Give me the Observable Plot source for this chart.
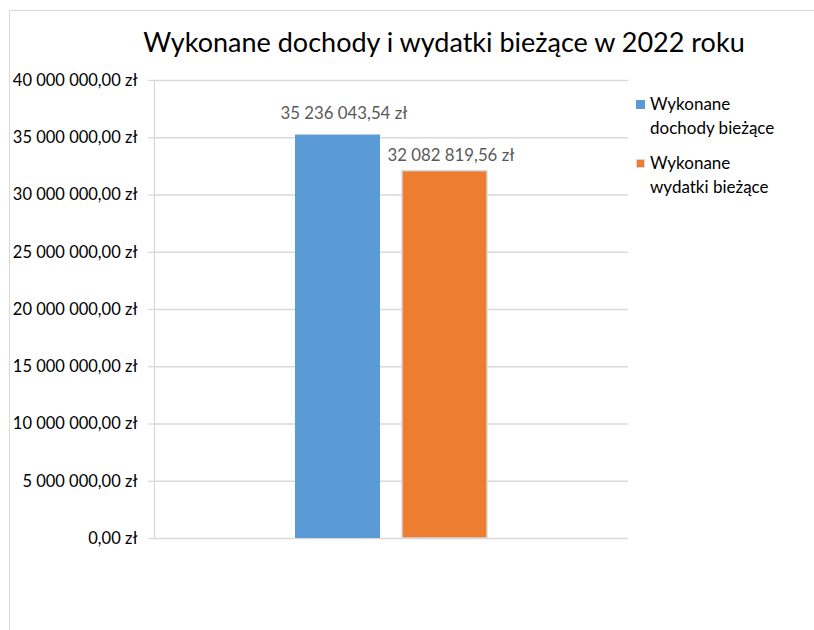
<!DOCTYPE html>
<html>
<head>
<meta charset="utf-8">
<script src="https://cdn.jsdelivr.net/npm/d3@7"></script>
<script src="https://cdn.jsdelivr.net/npm/@observablehq/plot@0.6"></script>
<style>
  html, body { margin: 0; padding: 0; background: #fff; }
  #wrap { position: relative; width: 814px; height: 630px; overflow: hidden; font-family: Lato, "Open Sans", sans-serif; }
  #border { position: absolute; left: 9px; top: 10px; width: 900px; height: 700px; border: 1px solid #d9d9d9; }
  #title { position: absolute; left: 0; width: 888px; top: 25px; text-align: center; font-size: 27px; color: #000; }
  #chart { position: absolute; left: 0; top: 0; }
  #legend { position: absolute; left: 636px; top: 92px; font-size: 17px; color: #000; line-height: 24px; }
  .item { display: flex; align-items: flex-start; margin-bottom: 11px; }
  .sw { width: 9px; height: 9px; margin-top: 8px; margin-right: 5px; flex: none; box-sizing: border-box; }
</style>
</head>
<body>
<div id="wrap">
  <div id="border"></div>
  <div id="title"></div>
  <div id="chart"></div>
  <div id="legend"></div>
</div>
<script>
const titleText = "Wykonane dochody i wydatki bieżące w 2022 roku";
const series = ["Wykonane dochody bieżące", "Wykonane wydatki bieżące"];
const legendLines = [["Wykonane", "dochody bieżące"], ["Wykonane", "wydatki bieżące"]];
const values = [35236043.54, 32082819.56];
const colors = ["#5B9BD5", "#ED7D31"];
const yTicks = [0, 5000000, 10000000, 15000000, 20000000, 25000000, 30000000, 35000000, 40000000];

const data = series.map((s, i) => ({series: s, value: values[i]}));

const fmt = v => {
  const [int, dec] = v.toFixed(2).split(".");
  return int.replace(/\B(?=(\d{3})+(?!\d))/g, " ") + "," + dec + " zł";
};

document.getElementById("title").textContent = titleText;

const chart = Plot.plot({
  width: 814,
  height: 630,
  marginLeft: 154,
  marginRight: 186,
  marginTop: 80,
  marginBottom: 92,
  style: {fontFamily: "Lato, 'Open Sans', sans-serif", fontSize: "16px", color: "#000", background: "transparent"},
  x: {domain: series, paddingInner: 0.204, paddingOuter: 1.297, axis: null},
  y: {domain: [0, 40000000], axis: null},
  color: {domain: series, range: colors},
  marks: [
    Plot.ruleY(yTicks, {stroke: "#d9d9d9", strokeWidth: 1.3, strokeOpacity: 1}),
    Plot.axisY(yTicks, {label: null, tickSize: 6, tickPadding: 11, tickFormat: fmt, stroke: "#d9d9d9", strokeWidth: 1.3, strokeOpacity: 1, fill: "#000", fontSize: 16.5}),
    Plot.frame({anchor: "left", stroke: "#d9d9d9", strokeWidth: 1.3}),
    Plot.barY(data, {x: "series", y: "value", fill: "series", stroke: (d, i) => i === 1 ? "#d9d9d9" : "none", strokeWidth: 1.5}),
    Plot.text(data.slice(0, 1), {x: "series", y: "value", text: d => fmt(d.value), dx: 6, dy: -21, fill: "#595959", fontSize: 16.8}),
    Plot.text(data.slice(1), {x: "series", y: "value", text: d => fmt(d.value), dx: 6, dy: -16, fill: "#595959", fontSize: 16.8})
  ]
});
document.getElementById("chart").appendChild(chart);

const leg = document.getElementById("legend");
series.forEach((s, i) => {
  const item = document.createElement("div");
  item.className = "item";
  const sw = document.createElement("div");
  sw.className = "sw";
  sw.style.background = colors[i];
  if (i === 1) sw.style.border = "1px solid #d9d9d9";
  const t = document.createElement("div");
  t.innerHTML = legendLines[i].join("<br>");
  item.appendChild(sw);
  item.appendChild(t);
  leg.appendChild(item);
});
</script>
</body>
</html>
